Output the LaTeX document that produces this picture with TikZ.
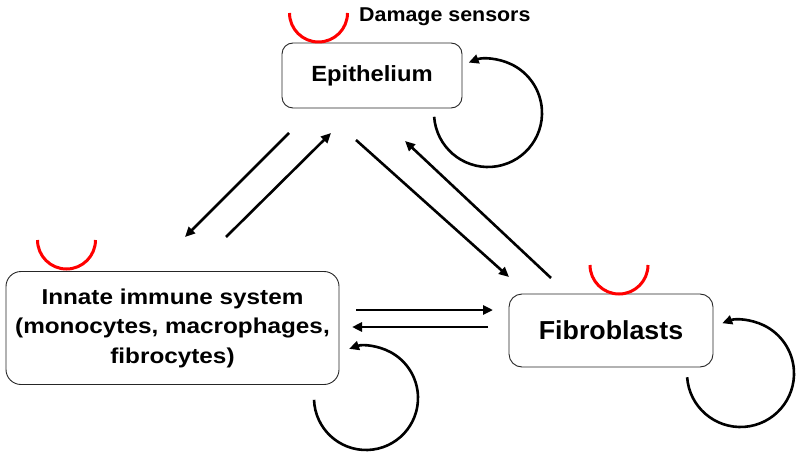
\documentclass[tikz,border=0pt]{standalone}
\usepackage{fontspec}
\setmainfont{Liberation Sans}
\usetikzlibrary{arrows.meta,calc}
\begin{document}
\begin{tikzpicture}[x=1pt,y=1pt,
  cellbox/.style={draw=black!85, line width=0.9pt, rounded corners=11pt, fill=white, align=center, inner sep=0pt},
  flow/.style={line width=2.6pt, -{Triangle[length=10pt,width=9pt]}},
  loopar/.style={line width=2.6pt, -{Triangle[length=10pt,width=9pt]}},
  sensor/.style={draw=red, line width=3pt}]
\useasboundingbox (0,0) rectangle (799,-454);
% boxes
\node[cellbox, minimum width=180pt, minimum height=65pt, font=\bfseries\fontsize{22}{26}\selectfont] (epi) at (372,-75.5)
  {\scalebox{1.08}[1]{Epithelium}};
\node[cellbox, rounded corners=15pt, minimum width=333pt, minimum height=113pt, font=\bfseries\fontsize{21.5}{29.5}\selectfont] (imm) at (172.5,-328)
  {\scalebox{1.13}[1]{Innate immune system}\\
   \scalebox{1.13}[1]{(monocytes, macrophages,}\\
   \scalebox{1.13}[1]{fibrocytes)}};
\node[cellbox, rounded corners=13pt, minimum width=204pt, minimum height=73pt, font=\bfseries\fontsize{26}{30}\selectfont] (fib) at (611,-330.5)
  {\scalebox{1.03}[1]{Fibroblasts}};
\node[anchor=base west, inner sep=0pt, font=\bfseries\fontsize{20}{24}\selectfont] (dmg) at (359,-21.7)
  {\scalebox{1.07}[1]{Damage sensors}};
% sensor arcs
\draw[sensor] (289.5,-13) arc[start angle=180, end angle=360, radius=29];
\draw[sensor] (37.5,-240) arc[start angle=180, end angle=360, radius=29];
\draw[sensor] (590,-265) arc[start angle=180, end angle=360, radius=29];
% connector endpoints
\coordinate (eiA) at (289,-133);
\coordinate (eiB) at (185,-237);
\coordinate (ieA) at (226,-237);
\coordinate (ieB) at (331,-133);
\coordinate (efA) at (356,-140);
\coordinate (efB) at (509,-277);
\coordinate (feA) at (551,-278);
\coordinate (feB) at (405,-141);
\coordinate (ifA) at (356,-310);
\coordinate (ifB) at (493,-310);
\coordinate (fiA) at (488,-327);
\coordinate (fiB) at (352,-327);
\draw[flow] (eiA) -- (eiB);
\draw[flow] (ieA) -- (ieB);
\draw[flow] (efA) -- (efB);
\draw[flow] (feA) -- (feB);
\draw[flow] (ifA) -- (ifB);
\draw[flow] (fiA) -- (fiB);
% self loops
\coordinate (eLoop) at ($(488,-113)+(184:54)$);
\coordinate (iLoop) at ($(366,-398)+(182:52)$);
\coordinate (fLoop) at ($(740.5,-373.5)+(184:53.5)$);
\draw[loopar] (eLoop) arc[start angle=184, end angle=471, radius=54];
\draw[loopar] (iLoop) arc[start angle=182, end angle=469, radius=52];
\draw[loopar] (fLoop) arc[start angle=184, end angle=470, radius=53.5];
\end{tikzpicture}
\end{document}
